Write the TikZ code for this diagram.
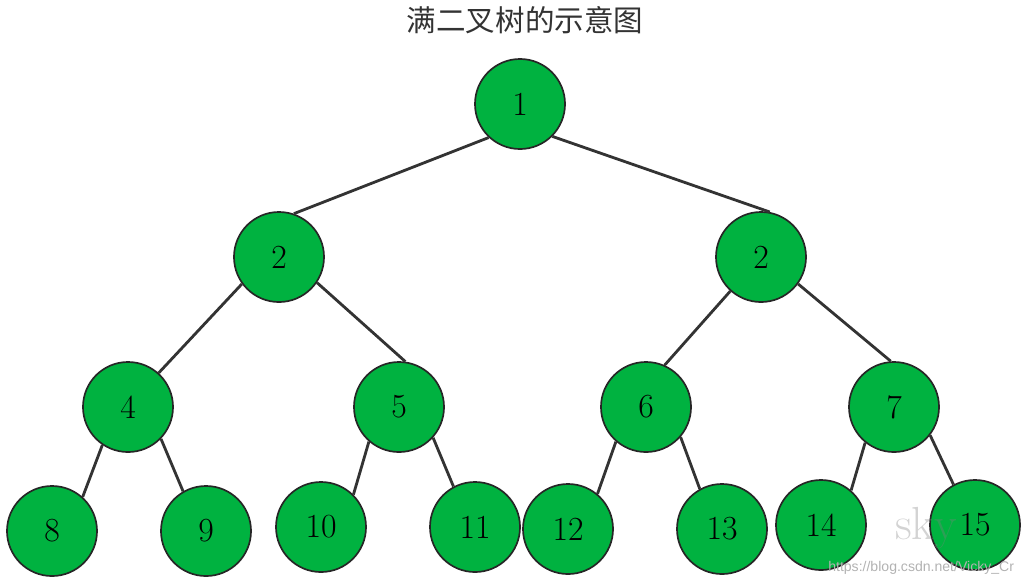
\documentclass[tikz,border=0pt]{standalone}
\usepackage{fontspec}
\newfontfamily\cjk{Noto Sans CJK SC}
\newfontfamily\urlfont{Liberation Sans}
\usepackage{tikz}
\usetikzlibrary{positioning}
\definecolor{treegreen}{RGB}{0,178,64}

\begin{document}
\begin{tikzpicture}[
        x=0.025cm, y=-0.025cm,
        font=\fontsize{24}{27}\selectfont,
        tnode/.style={draw=black!85, circle, line width=1.2pt, fill=treegreen, minimum size=2.25cm, inner sep=0pt},
        edge/.style={line width=2pt, draw=black!80}
    ]
        \useasboundingbox (0,0) rectangle (1030,587);
        \node[font=\cjk\fontsize{21}{24}\selectfont, text=black!80] (title) at (525,20) {满二叉树的示意图};

        \node[tnode] (n1)  at (520,104) {1};
        \node[tnode] (n2a) at (279,257) {2};
        \node[tnode] (n2b) at (761,257) {2};
        \node[tnode] (n4)  at (128,407) {4};
        \node[tnode] (n5)  at (399,407) {5};
        \node[tnode] (n6)  at (646,407) {6};
        \node[tnode] (n7)  at (894,407) {7};
        \node[tnode] (n8)  at (52,531)  {8};
        \node[tnode] (n9)  at (206,531) {9};
        \node[tnode] (n10) at (321,527) {10};
        \node[tnode] (n11) at (475,527) {11};
        \node[tnode] (n12) at (568,529) {12};
        \node[tnode] (n13) at (722,529) {13};
        \node[tnode] (n14) at (821,525) {14};
        \node[tnode] (n15) at (975,525) {15};

        \draw[edge] (n1.227)  -- (n2a.71);
        \draw[edge] (n1.315)  -- (n2b.79);
        \draw[edge] (n2a.216) -- (n4.48);
        \draw[edge] (n2a.326) -- (n5.82);
        \draw[edge] (n2b.228) -- (n6.66);
        \draw[edge] (n2b.324) -- (n7.94);
        \draw[edge] (n4.236)  -- (n8.48);
        \draw[edge] (n4.316)  -- (n9.120);
        \draw[edge] (n5.229)  -- (n10.45);
        \draw[edge] (n5.318)  -- (n11.118);
        \draw[edge] (n6.229)  -- (n12.50);
        \draw[edge] (n6.319)  -- (n13.119);
        \draw[edge] (n7.231)  -- (n14.49);
        \draw[edge] (n7.322)  -- (n15.118);

        % watermark
        \node[font=\fontsize{33}{36}\selectfont, text=gray, opacity=0.35] (mark) at (926,528) {sky};
        \node[font=\urlfont\fontsize{10}{12}\selectfont, text=gray!60, anchor=east] (url) at (1019,568) {https://blog.csdn.net/Vicky\_Cr};
    \end{tikzpicture}
\end{document}
